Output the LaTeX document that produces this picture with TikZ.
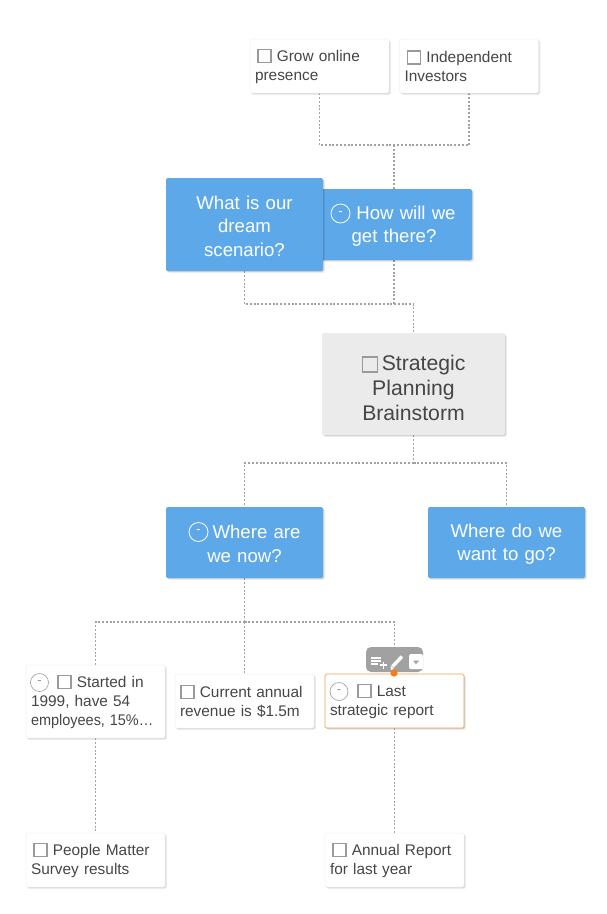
\documentclass[tikz,border=0pt]{standalone}
\usepackage{fontspec}
\usepackage{graphicx}
\setmainfont{Liberation Sans}
\usetikzlibrary{shadows,backgrounds,calc}
\definecolor{bluebox}{HTML}{5DA8E9}
\definecolor{txt}{HTML}{464646}
\definecolor{greybox}{HTML}{EBEBEB}
\definecolor{chkgrey}{HTML}{9A9A9A}
\definecolor{linegrey}{HTML}{A2A2A2}
\definecolor{orangeedge}{HTML}{F0A050}
\definecolor{orangedot}{HTML}{F57C14}
\definecolor{toolgrey}{HTML}{9E9E9E}
\newcommand{\chk}[2][11.5pt]{\smash{\raisebox{-.6pt}{\fboxsep=0pt\fboxrule=1.6pt\fcolorbox{chkgrey}{#2}{\rule{0pt}{#1}\rule{#1}{0pt}}}}}
\newcommand{\wchk}{\chk{white}}
\newcommand{\ts}[1][12.5pt]{\rule{0pt}{#1}}
\tikzset{
  softshadow/.style={general shadow={shadow xshift=.8pt,shadow yshift=-.8pt,opacity=.10,fill=black},
                     general shadow={shadow xshift=1.8pt,shadow yshift=-1.8pt,opacity=.08,fill=black}},
  cardbox/.style={draw=black!6,line width=.5pt,fill=white,rounded corners=1.5pt,softshadow,inner xsep=5pt,inner ysep=0pt,
    text width=#1-10pt,minimum width=#1,align=left,text=txt,font=\fontsize{15.4}{19}\selectfont},
  bluecard/.style={fill=bluebox,rounded corners=1.5pt,softshadow,inner sep=0pt,text width=#1-6pt,minimum width=#1,
    align=center,text=white,font=\fontsize{18.6}{23.5}\selectfont},
  link/.style={draw=linegrey,line width=1.6pt,dash pattern=on 2pt off 1.8pt},
  minus/.style={circle,inner sep=0pt,minimum size=#1,font=\fontsize{13}{13}\selectfont},
  toolicon/.style={draw=white,line width=1.3pt},
}
\begin{document}
\begin{tikzpicture}[x=1pt,y=-1pt]
\useasboundingbox (0,0) rectangle (607,914);
% cards
\node[cardbox=139pt,minimum height=54pt] (grow) at (319.5,66) {\ts\hspace{2pt}\wchk\ Grow online\\presence};
\node[cardbox=139pt,minimum height=54pt] (indep) at (469,66) {\ts\hspace{2pt}\wchk\ Independent\\Investors};
\node[bluecard=156pt,minimum height=71pt] (how) at (394,224.5) {\ts[16.5pt]\hspace{24pt}How will we\\get there?};
\node[bluecard=157pt,minimum height=93pt] (dream) at (244.5,224.5) {\ts[16.5pt]What is our\\dream\\scenario?};
\node[fill=greybox,rounded corners=1.5pt,softshadow,minimum width=183pt,minimum height=102pt,text width=175pt,inner sep=0pt,align=center,text=txt,font=\fontsize{21.2}{25}\selectfont] (plan) at (413.5,384) {\ts[23pt]\chk[13.5pt]{greybox}\,Strategic\\Planning\\Brainstorm};
\node[bluecard=157pt,minimum height=71pt] (now) at (244.5,542.5) {\ts[16.5pt]\hspace{24pt}Where are\\we now?};
\node[bluecard=157pt,minimum height=71pt] (go) at (506.5,542.5) {\ts[16.5pt]Where do we\\want to go?};
\node[cardbox=139pt,minimum height=73pt] (started) at (95.5,701.5) {\ts\hspace{26pt}\wchk\ Started in\\1999, have 54\\\mbox{\scalebox{.94}[1]{employees, 15\%…}}};
\node[cardbox=139pt,minimum height=54pt] (current) at (244.5,701) {\ts\wchk\ Current annual\\revenue is \$1.5m};
\node[cardbox=139pt,minimum height=54pt,draw=orangeedge,line width=.7pt] (last) at (394.5,701) {\ts\hspace{27pt}\wchk\ Last\\strategic report};
\node[cardbox=139pt,minimum height=54pt] (people) at (95.5,860) {\ts\hspace{2pt}\wchk\ People Matter\\Survey results};
\node[cardbox=139pt,minimum height=54pt] (annual) at (394.5,860) {\ts\hspace{2pt}\wchk\ Annual Report\\for last year};
% collapse toggles
\node[minus=19pt,draw=white,line width=.8pt,text=white] (howtoggle) at (340.5,213.5) {-};
\node[minus=19pt,draw=white,line width=.8pt,text=white] (nowtoggle) at (198.5,532) {-};
\node[minus=18pt,draw=chkgrey,line width=.6pt,text=chkgrey,fill=white] (starttoggle) at (39.5,682.5) {-};
\node[minus=18pt,draw=chkgrey,line width=.6pt,text=chkgrey,fill=white] (lasttoggle) at (339,691.5) {-};
% junctions
\coordinate (j1) at (394,145);
\coordinate (j2) at (394,304);
\coordinate (j3) at (413.5,463);
\coordinate (j4) at (244.5,622);
\begin{pgfonlayer}{background}
\fill[white] (0,0) rectangle (607,914);
\draw[link] (grow.south) |- (j1);
\draw[link] (indep.south) |- (j1);
\draw[link] (j1) -- (how.north);
\draw[link] (how.south) -- (j2);
\draw[link] (dream.south) |- (j2);
\draw[link] (j2) -| (plan.north);
\draw[link] (plan.south) -- (j3);
\draw[link] (j3) -| (now.north);
\draw[link] (j3) -| (go.north);
\draw[link] (now.south) -- (j4);
\draw[link] (j4) -| (started.north);
\draw[link] (j4) -- (current.north);
\draw[link] (j4) -| (last.north);
\draw[link] (started.south) -- (people.north);
\draw[link] (last.south) -- (annual.north);
\end{pgfonlayer}
% hover toolbar on the selected card
\fill[toolgrey,rounded corners=5pt,fill opacity=.96] (366,647) rectangle (423,672);
\draw[toolicon] (371,658) -- (381,658) (371,661) -- (381,661) (371,664) -- (378,664);
\draw[toolicon] (379.5,665) -- (387,665) (383.2,661.5) -- (383.2,668.5);
\draw[white,line width=3.4pt] (392.5,666.5) -- (402,656.5);
\fill[white] (391,670) -- (390.5,665.6) -- (394,668.8) -- cycle;
\fill[white,rounded corners=1.5pt] (409,654) rectangle (423,669);
\fill[toolgrey] (413.5,660.5) rectangle (418.5,662) (414.7,662) -- (417.3,662) -- (416,664.5) -- cycle;
\fill[orangedot] (394,673) circle (3.6pt);
\end{tikzpicture}
\end{document}
